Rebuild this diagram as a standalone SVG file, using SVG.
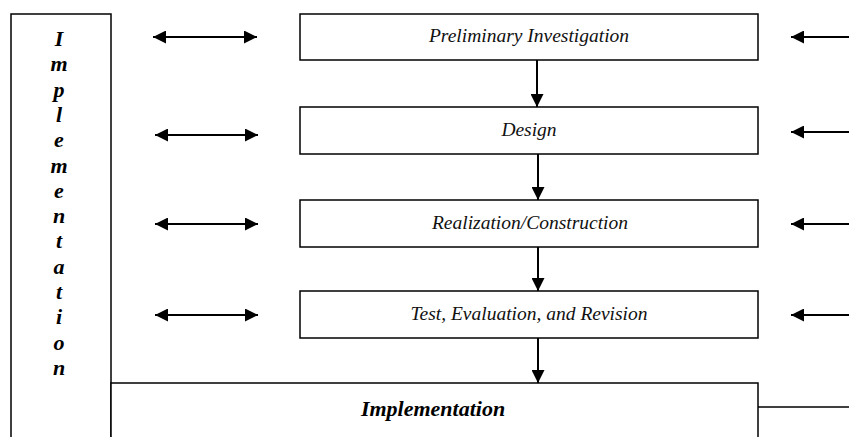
<svg xmlns="http://www.w3.org/2000/svg" width="849" height="437" viewBox="0 0 849 437">
<defs>
<marker id="ah" viewBox="0 0 10 10" refX="10" refY="5" markerWidth="13" markerHeight="13" markerUnits="userSpaceOnUse" orient="auto-start-reverse">
<path d="M0,0 L10,5 L0,10 z" fill="#000"/>
</marker>
</defs>
<style>
.box{fill:#fff;stroke:#000;stroke-width:1.5}
.lbl{font-family:"Liberation Serif","Times New Roman",serif;font-style:italic;font-size:19.5px;fill:#111;text-anchor:middle}
.side{font-family:"Liberation Serif","Times New Roman",serif;font-style:italic;font-weight:bold;font-size:22px;fill:#000;text-anchor:middle}
.big{font-family:"Liberation Serif","Times New Roman",serif;font-style:italic;font-weight:bold;font-size:22px;fill:#000;text-anchor:middle}
.conn{stroke:#000;stroke-width:2;fill:none}
.thin{stroke:#000;stroke-width:1.5;fill:none}
</style>
<rect width="849" height="437" fill="#fff"/>
<g id="side-implementation">
<rect class="box" x="11" y="14" width="100" height="440"/>
<text class="side" x="59" y="46">I</text>
<text class="side" x="59" y="71">m</text>
<text class="side" x="59" y="97">p</text>
<text class="side" x="59" y="122">l</text>
<text class="side" x="59" y="147">e</text>
<text class="side" x="59" y="173">m</text>
<text class="side" x="59" y="198">e</text>
<text class="side" x="59" y="223">n</text>
<text class="side" x="59" y="248">t</text>
<text class="side" x="59" y="274">a</text>
<text class="side" x="59" y="299">t</text>
<text class="side" x="59" y="324">i</text>
<text class="side" x="59" y="350">o</text>
<text class="side" x="59" y="375">n</text>
</g>
<g id="bottom-implementation">
<rect class="box" x="111" y="383" width="647" height="70"/>
<text class="big" x="433" y="416">Implementation</text>
</g>
<g id="preliminary">
<rect class="box" x="300" y="14" width="458" height="46"/>
<text class="lbl" x="529" y="42">Preliminary Investigation</text>
</g>
<g id="design">
<rect class="box" x="300" y="107" width="458" height="47"/>
<text class="lbl" x="529" y="136">Design</text>
</g>
<g id="realization">
<rect class="box" x="300" y="200" width="458" height="47"/>
<text class="lbl" x="530" y="229">Realization/Construction</text>
</g>
<g id="test">
<rect class="box" x="300" y="291" width="458" height="47"/>
<text class="lbl" x="529" y="320">Test, Evaluation, and Revision</text>
</g>
<g id="connectors">
<line class="conn" x1="537" y1="60" x2="537" y2="107" marker-end="url(#ah)"/>
<line class="conn" x1="538" y1="154" x2="538" y2="200" marker-end="url(#ah)"/>
<line class="conn" x1="538" y1="247" x2="538" y2="291" marker-end="url(#ah)"/>
<line class="conn" x1="538" y1="338" x2="538" y2="383" marker-end="url(#ah)"/>
<line class="conn" x1="153" y1="37" x2="257" y2="37" marker-start="url(#ah)" marker-end="url(#ah)"/>
<line class="conn" x1="155" y1="135" x2="258" y2="135" marker-start="url(#ah)" marker-end="url(#ah)"/>
<line class="conn" x1="155" y1="224" x2="258" y2="224" marker-start="url(#ah)" marker-end="url(#ah)"/>
<line class="conn" x1="155" y1="315" x2="258" y2="315" marker-start="url(#ah)" marker-end="url(#ah)"/>
<line class="conn" x1="849" y1="37" x2="791" y2="37" marker-end="url(#ah)"/>
<line class="conn" x1="849" y1="132" x2="791" y2="132" marker-end="url(#ah)"/>
<line class="conn" x1="849" y1="224" x2="791" y2="224" marker-end="url(#ah)"/>
<line class="conn" x1="849" y1="315" x2="791" y2="315" marker-end="url(#ah)"/>
<line class="thin" x1="758" y1="407" x2="849" y2="407"/>
</g>
</svg>
